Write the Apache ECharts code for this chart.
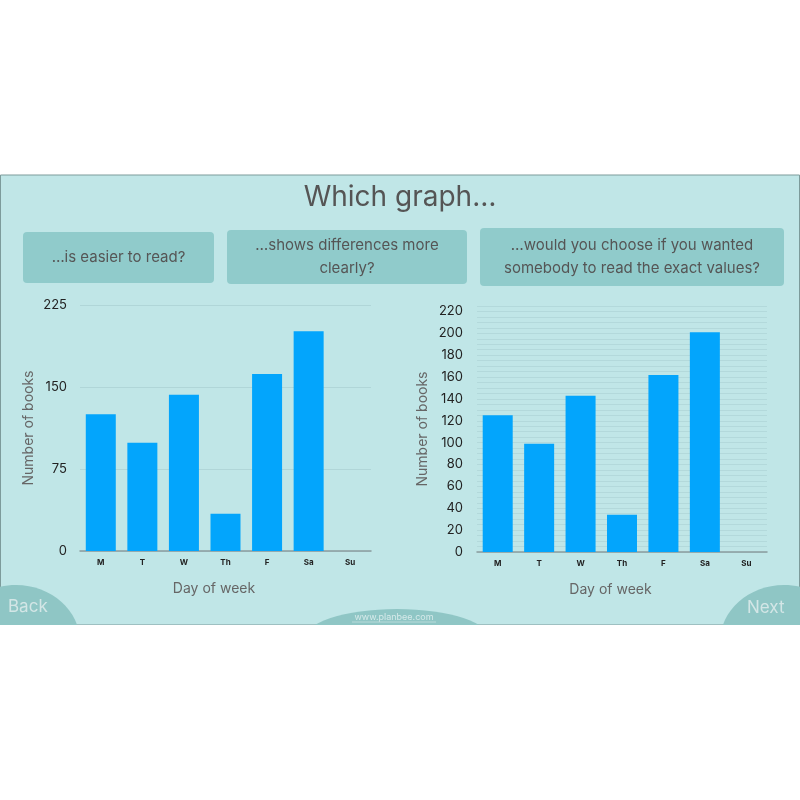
<html>
<head>
<meta charset="utf-8">
<title>Which graph</title>
<script src="https://cdn.jsdelivr.net/npm/echarts@6/dist/echarts.min.js"></script>
<style>
  body { margin: 0; background: #fff; }
  #main { width: 800px; height: 800px; }
</style>
</head>
<body>
<div id="main"></div>
<script type="text/javascript">
// data
var days = ['M', 'T', 'W', 'Th', 'F', 'Sa', 'Su'];
var books = [125, 99, 143, 34, 162, 201, 0];
var questions = ['…is easier to read?', '…shows differences more\nclearly?', '…would you choose if you wanted\nsomebody to read the exact values?'];

var font = 'Inter, "Open Sans", sans-serif';
var barColor = '#03a5fc';
var boxColor = '#90cbcb';
var bgColor = '#c0e6e7';

var myChart = echarts.init(document.getElementById('main'));

function box(x, y, w, h, text) {
  return {
    type: 'group', left: x, top: y, z: 5,
    children: [
      { type: 'rect', shape: { width: w, height: h, r: 4 }, style: { fill: boxColor } },
      { type: 'text', x: w / 2, y: h / 2,
        style: { text: text, fill: '#555', font: '15px ' + font, align: 'center', verticalAlign: 'middle', lineHeight: 23 } }
    ]
  };
}

var option = {
  backgroundColor: '#fff',
  animation: false,
  graphic: [
    // slide
    { type: 'rect', shape: { x: 0.5, y: 175, width: 799, height: 450 }, z: 0,
      style: { fill: bgColor, stroke: '#7d9b9b', lineWidth: 1 } },
    { type: 'text', left: 'center', top: 184, z: 5,
      style: { text: 'Which graph…', fill: '#555', font: '28px ' + font, x: 0 } },
    box(23, 232, 191, 51, questions[0]),
    box(227, 230, 240, 54, questions[1]),
    box(480, 228, 304, 58, questions[2]),
    // bottom navigation
    { type: 'ellipse', shape: { cx: 16, cy: 642, rx: 64, ry: 57 }, z: 1, style: { fill: '#8fc6c5' } },
    { type: 'ellipse', shape: { cx: 784, cy: 642, rx: 64, ry: 57 }, z: 1, style: { fill: '#8fc6c5' } },
    { type: 'ellipse', shape: { cx: 397, cy: 640, rx: 94, ry: 31 }, z: 1, style: { fill: '#8fc6c5' } },
    { type: 'rect', shape: { x: 0, y: 625, width: 800, height: 175 }, z: 2, style: { fill: '#fff' } },
    { type: 'text', x: 8, y: 598, z: 5, style: { text: 'Back', fill: '#d3e6e6', font: '17px ' + font } },
    { type: 'text', x: 747, y: 599, z: 5, style: { text: 'Next', fill: '#d3e6e6', font: '17px ' + font } },
    { type: 'text', x: 394, y: 617, z: 5,
      style: { text: 'www.planbee.com', fill: '#d6eaea', font: '9px ' + font, align: 'center', verticalAlign: 'middle' } },
    { type: 'line', shape: { x1: 352, y1: 622, x2: 436, y2: 622 }, z: 5, style: { stroke: '#d6eaea', lineWidth: 0.6 } }
  ],
  grid: [
    { left: 80, right: 429, top: 305, bottom: 249 },
    { left: 477, right: 33, top: 306, bottom: 248 }
  ],
  xAxis: [0, 1].map(function (i) {
    return {
      type: 'category', gridIndex: i, data: days,
      name: 'Day of week', nameLocation: 'middle', nameGap: 31,
      nameTextStyle: { color: '#666', fontSize: 14, fontFamily: font, padding: [0, 23, 0, 0] },
      axisLine: { lineStyle: { color: '#8a9c9e', width: 1.5 } },
      axisTick: { show: false },
      axisLabel: { color: '#222', fontSize: 8, fontWeight: 'bold', fontFamily: font, margin: 8 }
    };
  }),
  yAxis: [
    {
      type: 'value', gridIndex: 0, min: 0, max: 225, interval: 75,
      name: 'Number of books', nameLocation: 'middle', nameGap: 44,
      nameTextStyle: { color: '#666', fontSize: 14, fontFamily: font },
      axisLine: { show: false }, axisTick: { show: false },
      axisLabel: { color: '#222', fontSize: 13, fontFamily: font, margin: 13 },
      splitLine: { lineStyle: { color: '#b0d6d8', width: 1 } }
    },
    {
      type: 'value', gridIndex: 1, min: 0, max: 225, interval: 5,
      name: 'Number of books', nameLocation: 'middle', nameGap: 47,
      nameTextStyle: { color: '#666', fontSize: 14, fontFamily: font },
      axisLine: { show: false }, axisTick: { show: false },
      axisLabel: { color: '#222', fontSize: 13, fontFamily: font, margin: 14,
        formatter: function (v) { return v % 20 === 0 ? v : ''; } },
      splitLine: { lineStyle: { color: '#b3d9db', width: 1 } }
    }
  ],
  series: [
    { type: 'bar', xAxisIndex: 0, yAxisIndex: 0, data: books, barWidth: 30,
      itemStyle: { color: barColor } },
    { type: 'bar', xAxisIndex: 1, yAxisIndex: 1, data: books, barWidth: 30,
      itemStyle: { color: barColor } }
  ]
};

myChart.setOption(option);
</script>
</body>
</html>
